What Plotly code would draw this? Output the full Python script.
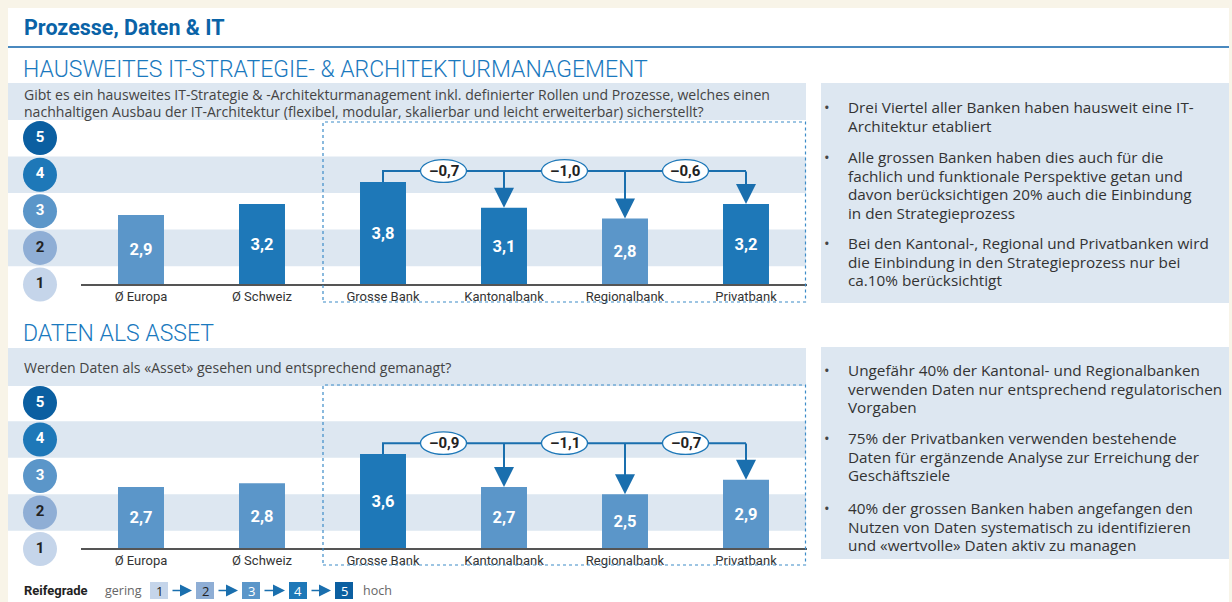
import plotly.graph_objects as go

W, H = 1232, 602

# ---------------- data ----------------
categories = ["Ø Europa", "Ø Schweiz", "Grosse Bank", "Kantonalbank", "Regionalbank", "Privatbank"]
it_values = [2.9, 3.2, 3.8, 3.1, 2.8, 3.2]
daten_values = [2.7, 2.8, 3.6, 2.7, 2.5, 2.9]
it_diffs = ["–0,7", "–1,0", "–0,6"]
daten_diffs = ["–0,9", "–1,1", "–0,7"]
levels = [1, 2, 3, 4, 5]
level_labels = ["1", "2", "3", "4", "5"]

title = "Prozesse, Daten & IT"
heading1 = "HAUSWEITES IT-STRATEGIE- & ARCHITEKTURMANAGEMENT"
question1 = ["Gibt es ein hausweites IT-Strategie & -Architekturmanagement inkl. definierter Rollen und Prozesse, welches einen",
             "nachhaltigen Ausbau der IT-Architektur (flexibel, modular, skalierbar und leicht erweiterbar) sicherstellt?"]
heading2 = "DATEN ALS ASSET"
question2 = ["Werden Daten als «Asset» gesehen und entsprechend gemanagt?"]

notes1 = [["Drei Viertel aller Banken haben hausweit eine IT-", "Architektur etabliert"],
          ["Alle grossen Banken haben dies auch für die", "fachlich und funktionale Perspektive getan und",
           "davon berücksichtigen 20% auch die Einbindung", "in den Strategieprozess"],
          ["Bei den Kantonal-, Regional und Privatbanken wird", "die Einbindung in den Strategieprozess nur bei",
           "ca.10% berücksichtigt"]]
notes2 = [["Ungefähr 40% der Kantonal- und Regionalbanken", "verwenden Daten nur entsprechend regulatorischen", "Vorgaben"],
          ["75% der Privatbanken verwenden bestehende", "Daten für ergänzende Analyse zur Erreichung der",
           "Geschäftsziele"],
          ["40% der grossen Banken haben angefangen den", "Nutzen von Daten systematisch zu identifizieren",
           "und «wertvolle» Daten aktiv zu managen"]]

legend_title = "Reifegrade"
legend_low = "gering"
legend_high = "hoch"

# ---------------- styles ----------------
FONT = "Roboto"
BODY = "Open Sans"
LEVEL_COLORS = ["#c5d5ea", "#8faed5", "#5b96c9", "#1e78b8", "#0b5fa1"]
LEVEL_TEXT = ["#222222", "#222222", "#ffffff", "#ffffff", "#ffffff"]
BAND = "#dde7f1"
BLUE_LINE = "#1a6fae"
TXT = "#333333"


def px(x):
    return x / W


def py(y):
    return 1 - y / H


fig = go.Figure()
shapes = []
annotations = []

# page background panel
shapes.append(dict(type="rect", xref="paper", yref="paper", x0=px(8), x1=px(1229), y0=py(602), y1=py(8),
                   fillcolor="white", line_width=0, layer="below"))
# title + rule
annotations.append(dict(xref="paper", yref="paper", x=px(22), y=py(27), xanchor="left", yanchor="middle",
                        text=title, showarrow=False,
                        font=dict(family=FONT, size=21.5, color="#0a63a7", weight=700)))
shapes.append(dict(type="line", xref="paper", yref="paper", x0=px(8), x1=px(1229), y0=py(47), y1=py(47),
                   line=dict(color="#4a89bf", width=2), layer="below"))

sections = [
    dict(values=it_values, diffs=it_diffs, heading=heading1, question=question1, notes=notes1,
         xa="x", ya="y", xc="x3", lvl1=284.5, unit=36.6, head_y=70, qband=(83, 120), q_y=94.5,
         box=(122, 302), panel=(83, 303), note_starts=[107, 157, 243]),
    dict(values=daten_values, diffs=daten_diffs, heading=heading2, question=question2, notes=notes2,
         xa="x2", ya="y2", xc="x4", lvl1=549, unit=36.5, head_y=333, qband=(348, 386), q_y=367,
         box=(385, 565), panel=(347, 559), note_starts=[370, 438, 508]),
]

x_left, x_right = 80.5, 806.5  # pixel extent of category axis (range -0.5..5.5)

for k, s in enumerate(sections):
    xa, ya, xc = s["xa"], s["ya"], s["xc"]
    vals = s["values"]
    lay_x = "xaxis" if k == 0 else "xaxis2"
    lay_y = "yaxis" if k == 0 else "yaxis2"
    lay_c = "xaxis3" if k == 0 else "xaxis4"
    bottom = s["lvl1"] + 0.5 * s["unit"]
    top = s["lvl1"] - 4.5 * s["unit"]

    fig.layout[lay_y] = dict(domain=[py(bottom), py(top)], range=[0.5, 5.5], visible=False,
                             fixedrange=True, anchor=xa)
    fig.layout[lay_x] = dict(domain=[px(x_left), px(x_right)], range=[-0.5, 5.5], anchor="free",
                             position=py(s["lvl1"]), tickvals=list(range(len(categories))),
                             ticktext=categories, showline=True, linecolor="#555555", linewidth=1.5,
                             ticks="", showgrid=False, zeroline=False, fixedrange=True,
                             tickfont=dict(family=FONT, size=13, color=TXT))
    # small axis for the level circles column
    fig.layout[lay_c] = dict(domain=[px(23), px(57)], range=[-1, 1], anchor=ya, visible=False,
                             fixedrange=True)

    # heading and question band
    annotations.append(dict(xref="paper", yref="paper", x=px(21), y=py(s["head_y"]), xanchor="left",
                            yanchor="middle", text=s["heading"], showarrow=False,
                            font=dict(family=FONT, size=23, color="#1a79be", weight=300)))
    shapes.append(dict(type="rect", xref="paper", yref="paper", x0=px(8), x1=px(806),
                       y0=py(s["qband"][1]), y1=py(s["qband"][0]), fillcolor=BAND, line_width=0, layer="below"))
    for i, line in enumerate(s["question"]):
        annotations.append(dict(xref="paper", yref="paper", x=px(22), y=py(s["q_y"] + 16.5 * i),
                                xanchor="left", yanchor="middle", text=line, showarrow=False,
                                font=dict(family=BODY, size=14.05, color="#444444")))

    # level bands (rows 4 and 2)
    for lv in (4, 2):
        shapes.append(dict(type="rect", xref="paper", yref=ya, x0=px(8), x1=px(806), y0=lv - 0.5, y1=lv + 0.5,
                           fillcolor=BAND, line_width=0, layer="below"))

    # dotted box
    shapes.append(dict(type="rect", xref="paper", yref="paper", x0=px(323), x1=px(805.5),
                       y0=py(s["box"][1]), y1=py(s["box"][0]), fillcolor="rgba(0,0,0,0)",
                       line=dict(color="#3d8cc8", width=1.2, dash="dot"), layer="above"))

    # right notes panel
    shapes.append(dict(type="rect", xref="paper", yref="paper", x0=px(821), x1=px(1229),
                       y0=py(s["panel"][1]), y1=py(s["panel"][0]), fillcolor=BAND, line_width=0, layer="below"))
    for start, para in zip(s["note_starts"], s["notes"]):
        annotations.append(dict(xref="paper", yref="paper", x=px(827), y=py(start), xanchor="center",
                                yanchor="middle", text="•", showarrow=False,
                                font=dict(family=BODY, size=15, color="#444444")))
        for i, line in enumerate(para):
            annotations.append(dict(xref="paper", yref="paper", x=px(846), y=py(start + 18.6 * i),
                                    xanchor="left", yanchor="middle", text=line, showarrow=False,
                                    font=dict(family=BODY, size=15.3, color=TXT)))

    # level circles
    fig.add_trace(go.Scatter(x=[0] * len(levels), y=levels, xaxis=xc, yaxis=ya,
                             mode="markers+text", text=level_labels, textposition="middle center",
                             marker=dict(size=34, color=LEVEL_COLORS, line_width=0),
                             textfont=dict(family=FONT, size=15, color=LEVEL_TEXT, weight=700),
                             cliponaxis=False, hoverinfo="skip"))

    # bars (start at level 1)
    fig.add_trace(go.Bar(x=list(range(len(categories))), y=[v - 1 for v in vals], base=1,
                         xaxis=xa, yaxis=ya, width=0.38,
                         marker=dict(color=[LEVEL_COLORS[int(v)] for v in vals], line_width=0),
                         text=[f"{v:.1f}".replace(".", ",") for v in vals], textposition="inside",
                         insidetextanchor="middle", textangle=0,
                         textfont=dict(family=FONT, size=16.5, color="white", weight=700),
                         hoverinfo="skip"))

    # comparison connector from Grosse Bank
    ref = vals[2]
    conn = ref + 0.3
    fig.add_trace(go.Scatter(x=[2, 2, 5], y=[ref, conn, conn], xaxis=xa, yaxis=ya, mode="lines",
                             line=dict(color=BLUE_LINE, width=2), hoverinfo="skip"))
    for j in (3, 4, 5):
        annotations.append(dict(x=j, y=vals[j], xref=xa, yref=ya, ax=j, ay=conn + 0.03, axref=xa, ayref=ya,
                                text="", showarrow=True, arrowhead=2, arrowsize=2.0, arrowwidth=2,
                                arrowcolor=BLUE_LINE, standoff=0))
    for m, label in enumerate(s["diffs"]):
        cx = 2.5 + m
        shapes.append(dict(type="circle", xref=xa, yref=ya, x0=cx - 0.19, x1=cx + 0.19, y0=conn - 0.31,
                           y1=conn + 0.31, fillcolor="white", line=dict(color="#1e78b8", width=1.3),
                           layer="above"))
        annotations.append(dict(x=cx, y=conn, xref=xa, yref=ya, text=label, showarrow=False,
                                font=dict(family=FONT, size=15, color="#222222", weight=700)))

# legend at the bottom
LY = 590.5
annotations.append(dict(xref="paper", yref="paper", x=px(22), y=py(LY), xanchor="left", yanchor="middle",
                        text=legend_title, showarrow=False,
                        font=dict(family=FONT, size=13, color="#222222", weight=700)))
annotations.append(dict(xref="paper", yref="paper", x=px(103), y=py(LY), xanchor="left", yanchor="middle",
                        text=legend_low, showarrow=False, font=dict(family=BODY, size=12.5, color="#666666")))
box_lefts = [150, 196, 242, 289, 335]
for i, lv in enumerate(levels):
    x0 = box_lefts[i]
    shapes.append(dict(type="rect", xref="paper", yref="paper", x0=px(x0), x1=px(x0 + 18), y0=py(599),
                       y1=py(582), fillcolor=LEVEL_COLORS[i], line_width=0))
    annotations.append(dict(xref="paper", yref="paper", x=px(x0 + 9), y=py(LY), xanchor="center",
                            yanchor="middle", text=level_labels[i], showarrow=False,
                            font=dict(family=BODY, size=13, color=LEVEL_TEXT[i])))
    if i < len(levels) - 1:
        annotations.append(dict(xref="paper", yref="paper", x=px(box_lefts[i + 1] - 4), y=py(LY),
                                ax=-(box_lefts[i + 1] - 4 - (x0 + 21)), ay=0, text="", showarrow=True,
                                arrowhead=2, arrowsize=1.5, arrowwidth=1.6, arrowcolor=BLUE_LINE, standoff=0))
annotations.append(dict(xref="paper", yref="paper", x=px(361), y=py(LY), xanchor="left", yanchor="middle",
                        text=legend_high, showarrow=False, font=dict(family=BODY, size=12.5, color="#666666")))

fig.update_layout(width=W, height=H, margin=dict(l=0, r=0, t=0, b=0), paper_bgcolor="#f8f4e8",
                  plot_bgcolor="rgba(0,0,0,0)", showlegend=False, shapes=shapes, annotations=annotations,
                  font=dict(family=FONT, color=TXT), bargap=0.6)

fig.write_html("out.html", config={"displayModeBar": False},
               post_script="document.body.style.margin='0';document.body.style.overflow='hidden';")
